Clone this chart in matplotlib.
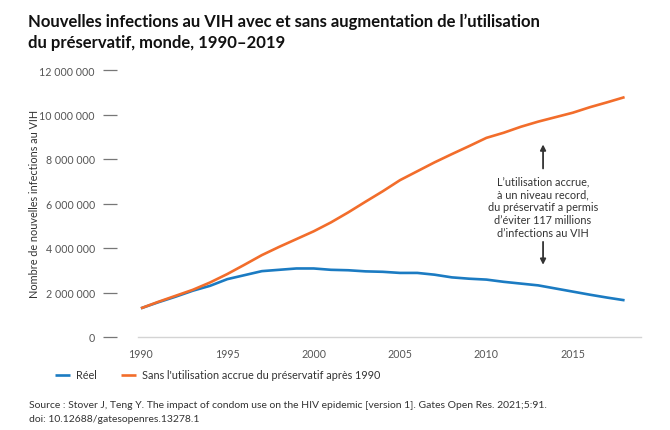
import numpy as np
import matplotlib
matplotlib.use("Agg")
import matplotlib.pyplot as plt

plt.rcParams['font.family'] = ['Lato', 'DejaVu Sans']

years = list(range(1990, 2019))
reel = [1.29, 1.56, 1.81, 2.08, 2.30, 2.60, 2.78, 2.96, 3.02, 3.08,
        3.08, 3.02, 3.00, 2.95, 2.93, 2.88, 2.88, 2.80, 2.68, 2.62,
        2.58, 2.48, 2.40, 2.32, 2.18, 2.04, 1.90, 1.77, 1.65]
sans = [1.29, 1.58, 1.85, 2.12, 2.45, 2.83, 3.25, 3.68, 4.05, 4.40,
        4.75, 5.15, 5.60, 6.08, 6.55, 7.05, 7.45, 7.85, 8.22, 8.58,
        8.95, 9.18, 9.45, 9.68, 9.88, 10.08, 10.33, 10.55, 10.78]
reel = [v * 1e6 for v in reel]
sans = [v * 1e6 for v in sans]

yticks = [0, 2e6, 4e6, 6e6, 8e6, 10e6, 12e6]
ylabels = ["0", "2 000 000", "4 000 000", "6 000 000", "8 000 000", "10 000 000", "12 000 000"]
xticks = [1990, 1995, 2000, 2005, 2010, 2015]

blue = "#1b7bc2"
orange = "#f26d2b"

fig = plt.figure(figsize=(6.7, 4.31), dpi=100)
ax = fig.add_axes([138/670, 1 - 338/431, (641 - 138)/670, (338 - 71)/431])

ax.plot(years, reel, color=blue, lw=1.9, label="Réel", solid_capstyle="butt")
ax.plot(years, sans, color=orange, lw=1.9,
        label="Sans l'utilisation accrue du préservatif après 1990", solid_capstyle="butt")

ax.set_xlim(1989.83, 2018.95)
ax.set_ylim(0, 12e6)

for s in ["top", "right"]:
    ax.spines[s].set_visible(False)
ax.spines["left"].set_position(("outward", 15))
ax.spines["left"].set_visible(False)
ax.spines["bottom"].set_color("#d4d4d4")
ax.spines["bottom"].set_linewidth(1)

ax.set_yticks(yticks)
ax.set_yticklabels(ylabels)
ax.set_xticks(xticks)
ax.tick_params(axis="y", length=10, width=0.9, color="#777777", pad=6,
               labelsize=7.7, labelcolor="#555555")
ax.tick_params(axis="x", length=0, pad=8, labelsize=7.7, labelcolor="#555555")

fig.text(35/670, 1 - 204/431, "Nombre de nouvelles infections au VIH", rotation=90,
         ha="center", va="center", fontsize=7.8, color="#333333")

fig.text(28/670, 1 - 22/431,
         "Nouvelles infections au VIH avec et sans augmentation de l’utilisation",
         fontsize=12, fontweight="bold", color="#111111", ha="left", va="center")
fig.text(28/670, 1 - 43/431, "du préservatif, monde, 1990–2019",
         fontsize=12, fontweight="bold", color="#111111", ha="left", va="center")

# annotation
ax.text(2013.28, 5.85e6,
        "L’utilisation accrue,\nà un niveau record,\ndu préservatif a permis\nd’éviter 117 millions\nd’infections au VIH",
        ha="center", va="center", fontsize=7.8, color="#333333", linespacing=1.2)
ax.annotate("", xy=(2013.28, 8.78e6), xytext=(2013.28, 7.45e6),
            arrowprops=dict(arrowstyle="-|>", color="#333333", lw=1.3, mutation_scale=8))
ax.annotate("", xy=(2013.28, 3.12e6), xytext=(2013.28, 4.40e6),
            arrowprops=dict(arrowstyle="-|>", color="#333333", lw=1.3, mutation_scale=8))

fig.legend(loc="center left", bbox_to_anchor=(55/670, 1 - 376/431), ncol=2,
           frameon=False, fontsize=7.8, handlelength=1.4, handletextpad=0.5,
           columnspacing=2.3, borderpad=0, borderaxespad=0, labelcolor="#333333")

fig.text(29/670, 1 - 406/431,
         "Source : Stover J, Teng Y. The impact of condom use on the HIV epidemic [version 1]. Gates Open Res. 2021;5:91.",
         fontsize=7.5, color="#333333", ha="left", va="center")
fig.text(29/670, 1 - 420/431, "doi: 10.12688/gatesopenres.13278.1",
         fontsize=7.5, color="#333333", ha="left", va="center")

fig.savefig("out.png", dpi=100)
